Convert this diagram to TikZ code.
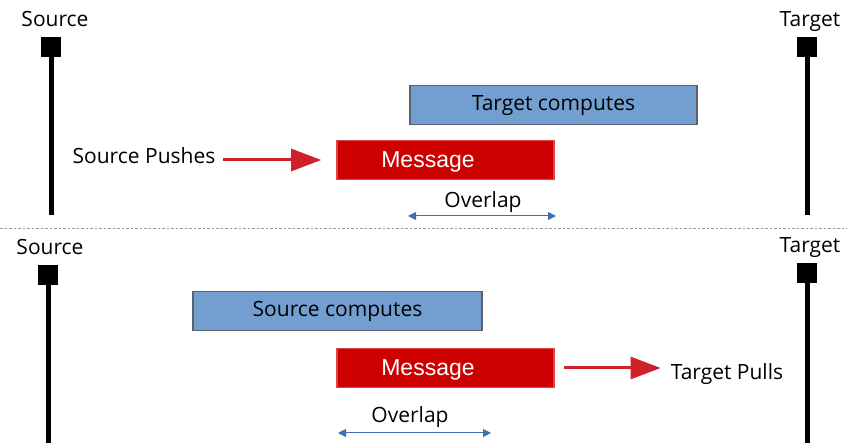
\documentclass[tikz,border=0pt]{standalone}
\usepackage{fontspec}
\setmainfont{Open Sans}
\newfontfamily\msgfont{Liberation Sans}
\usetikzlibrary{arrows.meta,positioning}
\definecolor{compc}{HTML}{729FCF}
\definecolor{compb}{HTML}{5A6270}
\definecolor{msgc}{HTML}{CC0000}
\definecolor{msgb}{HTML}{E04545}
\definecolor{arrc}{HTML}{D0202A}
\definecolor{ovc}{HTML}{3E6FB0}
\tikzset{
  lbl/.style={font=\fontsize{21}{25}\selectfont,inner sep=0pt,anchor=base},
  capbox/.style={fill=black,minimum size=20pt,inner sep=0pt},
  life/.style={line width=5pt},
  comp/.style={draw=compb,line width=1.2pt,fill=compc,minimum height=39pt,inner sep=0pt},
  msg/.style={draw=msgb,line width=1.6pt,fill=msgc,minimum height=39pt,inner sep=0pt},
  msgtxt/.style={font=\msgfont\fontsize{23}{27}\selectfont,text=white,inner sep=0pt,anchor=base},
  push/.style={-{Triangle[length=30pt,width=22pt]},line width=3pt,arrc},
  ov/.style={{Triangle[length=8pt,width=8pt]}-{Triangle[length=8pt,width=8pt]},line width=1pt,ovc}
}
\begin{document}
\begin{tikzpicture}[x=1pt,y=-1pt]
\useasboundingbox (0,0) rectangle (847,443);
% top: source pushes
\node[lbl] (src1) at (55,27) {Source};
\node[lbl] (tgt1) at (810,27) {Target};
\node[capbox] (sq1) at (51,47) {};
\node[capbox] (tq1) at (807,47) {};
\coordinate (se1) at (51,215);
\coordinate (te1) at (807,215);
\draw[life] (sq1.south) -- (se1);
\draw[life] (tq1.south) -- (te1);
\node[comp,minimum width=287pt] (tc) at (553.5,105) {};
\node[lbl] at ([yshift=-6pt]tc.center) {Target computes};
\node[msg,minimum width=217pt] (m1) at (445.5,160) {};
\node[msgtxt] at (428,168) {Message};
\node[lbl] (sp) at (144,164) {Source Pushes};
\draw[push,shorten <=7pt,shorten >=15pt] (sp.east |- m1.west) -- (m1.west);
\node[lbl] (ov1) at (483,208) {Overlap};
\coordinate (oa1) at (408,216);
\coordinate (ob1) at (556,216);
\draw[ov] (oa1) -- (ob1);
% separator
\draw[gray!80,line width=1pt,dash pattern=on 2.5pt off 2pt] (0,229) -- (847,229);
% bottom: target pulls
\node[lbl] (src2) at (50,255) {Source};
\node[lbl] (tgt2) at (810,253) {Target};
\node[capbox] (sq2) at (48,275) {};
\node[capbox] (tq2) at (807,273) {};
\coordinate (se2) at (48,443);
\coordinate (te2) at (807,443);
\draw[life] (sq2.south) -- (se2);
\draw[life] (tq2.south) -- (te2);
\node[comp,minimum width=289pt] (sc) at (337.5,311) {};
\node[lbl] at ([yshift=-6pt]sc.center) {Source computes};
\node[msg,minimum width=217pt] (m2) at (445.5,368) {};
\node[msgtxt] at (428,376) {Message};
\node[lbl] (tp) at (727,380) {Target Pulls};
\draw[push,shorten <=9pt,shorten >=10pt] (m2.east) -- (m2.east -| tp.west);
\node[lbl] (ov2) at (410,423) {Overlap};
\coordinate (oa2) at (338,433);
\coordinate (ob2) at (491,433);
\draw[ov] (oa2) -- (ob2);
\end{tikzpicture}
\end{document}
